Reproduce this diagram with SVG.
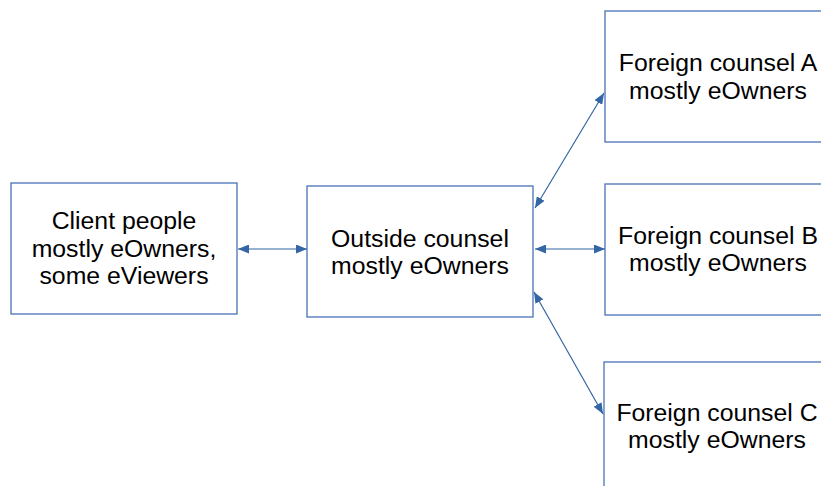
<svg xmlns="http://www.w3.org/2000/svg" width="821" height="486" viewBox="0 0 821 486">
<style>
.box{fill:#ffffff;stroke:#4a72b8;stroke-width:1.3}
.lbl{font-family:"Liberation Sans",Arial,sans-serif;font-size:24.8px;fill:#000;text-anchor:middle}
.conn{stroke:#3465a4;stroke-width:1.2;fill:none;marker-start:url(#ah);marker-end:url(#ah)}
</style>
<defs>
<marker id="ah" viewBox="0 0 11 9" refX="11" refY="4.5" markerWidth="11" markerHeight="9" markerUnits="userSpaceOnUse" orient="auto-start-reverse">
<path d="M0,0 L11,4.5 L0,9 Z" fill="#3465a4"/>
</marker>
</defs>
<rect width="821" height="486" fill="#ffffff"/>
<g id="client">
<rect class="box" x="11" y="183" width="226" height="131"/>
<text class="lbl" x="124" y="229">Client people</text>
<text class="lbl" x="124" y="257">mostly eOwners,</text>
<text class="lbl" x="124" y="284">some eViewers</text>
</g>
<g id="outside">
<rect class="box" x="307" y="186" width="226" height="131"/>
<text class="lbl" x="420" y="247">Outside counsel</text>
<text class="lbl" x="420" y="274">mostly eOwners</text>
</g>
<g id="foreignA">
<rect class="box" x="605" y="11" width="226" height="131"/>
<text class="lbl" x="718" y="71">Foreign counsel A</text>
<text class="lbl" x="718" y="99">mostly eOwners</text>
</g>
<g id="foreignB">
<rect class="box" x="605" y="184" width="226" height="131"/>
<text class="lbl" x="718" y="244">Foreign counsel B</text>
<text class="lbl" x="718" y="271">mostly eOwners</text>
</g>
<g id="foreignC">
<rect class="box" x="604" y="362" width="226" height="131"/>
<text class="lbl" x="717" y="421">Foreign counsel C</text>
<text class="lbl" x="717" y="448">mostly eOwners</text>
</g>
<g id="connectors">
<line class="conn" x1="238" y1="249" x2="307" y2="249"/>
<line class="conn" x1="535" y1="249" x2="605" y2="249"/>
<line class="conn" x1="535" y1="208" x2="604" y2="93"/>
<line class="conn" x1="534" y1="292" x2="603" y2="414"/>
</g>
</svg>
